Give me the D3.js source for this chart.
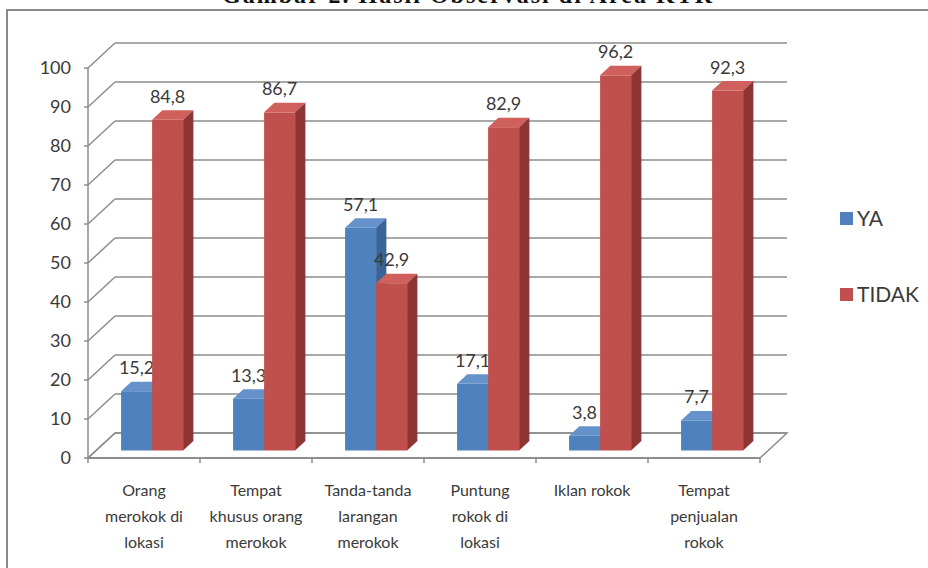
<!DOCTYPE html>
<html>
<head>
<meta charset="utf-8">
<script src="https://cdn.jsdelivr.net/npm/d3@7"></script>
<style>
  body { margin: 0; background: #fff; }
  svg { display: block; }
  text { font-family: Lato, "Open Sans", sans-serif; fill: #3a3a3a; }
</style>
</head>
<body>
<div></div>
<script>
var width = 928, height = 568;

// data
var categories = [
  ["Orang", "merokok di", "lokasi"],
  ["Tempat", "khusus orang", "merokok"],
  ["Tanda-tanda", "larangan", "merokok"],
  ["Puntung", "rokok di", "lokasi"],
  ["Iklan rokok"],
  ["Tempat", "penjualan", "rokok"]
];
var seriesNames = ["YA", "TIDAK"];
var yaValues    = [15.2, 13.3, 57.1, 17.1, 3.8, 7.7];
var tidakValues = [84.8, 86.7, 42.9, 82.9, 96.2, 92.3];
var yTicks = [0, 10, 20, 30, 40, 50, 60, 70, 80, 90, 100];

var colors = {
  YA:    { front: "#4f81bd", top: "#6592cb", side: "#3a6497" },
  TIDAK: { front: "#c0504d", top: "#cf605c", side: "#8e3533" }
};

// depth of the 3d box (full depth = back wall)
var depthX = 27, depthY = -25;
var z0 = 0.3, z1 = 0.68;

var svg = d3.select("div").append("svg")
  .attr("width", width)
  .attr("height", height);

// title (cut off at the top)
svg.append("text")
  .attr("x", 467).attr("y", 3)
  .attr("text-anchor", "middle")
  .attr("textLength", 490)
  .style("font-family", "'Liberation Serif', 'DejaVu Serif', serif")
  .style("font-weight", "bold")
  .style("font-size", "24px")
  .style("fill", "#111")
  .text("Gambar 2. Hasil Observasi di Area KTR");

// chart frame
svg.append("rect")
  .attr("x", 7).attr("y", 10)
  .attr("width", 960).attr("height", 620)
  .attr("fill", "#fff")
  .attr("stroke", "#8a8a8a")
  .attr("stroke-width", 2);

var x = d3.scaleBand()
  .domain(d3.range(categories.length))
  .range([88, 760])
  .paddingInner(0.446)
  .paddingOuter(0.223);

var xs = d3.scaleBand()
  .domain(seriesNames)
  .range([0, x.bandwidth()]);

var y = d3.scaleLinear().domain([0, 100]).range([458, 68]);

var x0 = x.range()[0], x1 = x.range()[1];
var gridColor = "#8c8c8c";

var g = svg.append("g");

// floor
g.append("path")
  .attr("d", "M" + x0 + "," + y(0) + "L" + x1 + "," + y(0) +
    "L" + (x1 + depthX) + "," + (y(0) + depthY) +
    "L" + (x0 + depthX) + "," + (y(0) + depthY) + "Z")
  .attr("fill", "#fff")
  .attr("stroke", gridColor)
  .attr("stroke-width", 1.5);

// back wall gridlines + side wall diagonals
yTicks.forEach(function (t) {
  g.append("line")
    .attr("x1", x0 + depthX).attr("x2", x1 + depthX)
    .attr("y1", y(t) + depthY).attr("y2", y(t) + depthY)
    .attr("stroke", gridColor).attr("stroke-width", 1.5);
  g.append("line")
    .attr("x1", x0).attr("x2", x0 + depthX)
    .attr("y1", y(t)).attr("y2", y(t) + depthY)
    .attr("stroke", gridColor).attr("stroke-width", 1.5);
});

// value axis
g.append("line")
  .attr("x1", x0).attr("x2", x0)
  .attr("y1", y(0)).attr("y2", y(100))
  .attr("stroke", gridColor).attr("stroke-width", 1.5);

g.selectAll(".ytick").data(yTicks).enter().append("line")
  .attr("x1", x0 - 4).attr("x2", x0)
  .attr("y1", function (d) { return y(d); })
  .attr("y2", function (d) { return y(d); })
  .attr("stroke", gridColor).attr("stroke-width", 1.5);

g.selectAll(".ylabel").data(yTicks).enter().append("text")
  .attr("x", 71)
  .attr("y", function (d) { return y(d) + 6; })
  .attr("text-anchor", "end")
  .style("font-size", "18px")
  .text(function (d) { return d; });

// category axis
g.append("line")
  .attr("x1", x0).attr("x2", x1)
  .attr("y1", y(0)).attr("y2", y(0))
  .attr("stroke", gridColor).attr("stroke-width", 2);

var catTicks = d3.range(categories.length + 1).map(function (i) { return x0 + i * x.step(); });
g.selectAll(".xtick").data(catTicks).enter().append("line")
  .attr("x1", function (d) { return d; })
  .attr("x2", function (d) { return d; })
  .attr("y1", y(0)).attr("y2", y(0) + 5)
  .attr("stroke", gridColor).attr("stroke-width", 1.5);

categories.forEach(function (lines, i) {
  var t = g.append("text")
    .attr("x", x(i) + x.bandwidth() / 2)
    .attr("y", 496)
    .attr("text-anchor", "middle")
    .style("font-size", "16px");
  lines.forEach(function (line, j) {
    t.append("tspan")
      .attr("x", x(i) + x.bandwidth() / 2)
      .attr("dy", j === 0 ? 0 : 26)
      .text(line);
  });
});

// 3d bars
var fmt = function (v) { return String(v).replace(".", ","); };
var dx = depthX * (z1 - z0), dy = depthY * (z1 - z0);

function bar(i, name, v) {
  var c = colors[name];
  var px = x(i) + xs(name) + depthX * z0;
  var w = xs.bandwidth();
  var yt = y(v) + depthY * z0;
  var yb = y(0) + depthY * z0;

  g.append("rect")
    .attr("x", px).attr("y", yt)
    .attr("width", w).attr("height", yb - yt)
    .attr("fill", c.front);
  g.append("path")
    .attr("d", "M" + px + "," + yt + "L" + (px + w) + "," + yt +
      "L" + (px + w + dx) + "," + (yt + dy) + "L" + (px + dx) + "," + (yt + dy) + "Z")
    .attr("fill", c.top);
  g.append("path")
    .attr("d", "M" + (px + w) + "," + yt + "L" + (px + w + dx) + "," + (yt + dy) +
      "L" + (px + w + dx) + "," + (yb + dy) + "L" + (px + w) + "," + yb + "Z")
    .attr("fill", c.side);

  g.append("text")
    .attr("x", px + w / 2)
    .attr("y", yt - 17)
    .attr("text-anchor", "middle")
    .style("font-size", "18px")
    .text(fmt(v));
}

categories.forEach(function (d, i) {
  bar(i, "YA", yaValues[i]);
  bar(i, "TIDAK", tidakValues[i]);
});

// legend
var legend = svg.append("g").selectAll("g")
  .data(seriesNames).enter().append("g")
  .attr("transform", function (d, i) { return "translate(840," + (212 + i * 76) + ")"; });

legend.append("rect")
  .attr("width", 13).attr("height", 13)
  .attr("fill", function (d) { return colors[d].front; });

legend.append("text")
  .attr("x", 17).attr("y", 14)
  .style("font-size", "21px")
  .text(function (d) { return d; });
</script>
</body>
</html>
